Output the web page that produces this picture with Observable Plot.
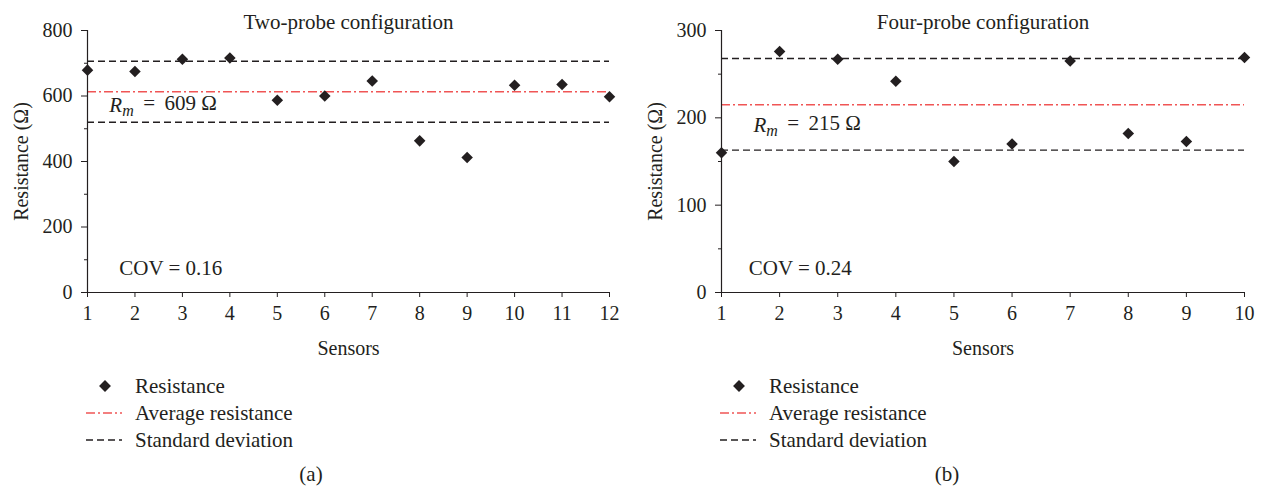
<!DOCTYPE html>
<html><head><meta charset="utf-8">
<script src="https://cdn.jsdelivr.net/npm/d3@7"></script>
<script src="https://cdn.jsdelivr.net/npm/@observablehq/plot@0.6"></script>
<style>
body{margin:0;background:#fff;font-family:"Times New Roman","Liberation Serif","DejaVu Serif",serif;color:#231f20;}
#wrap{display:flex;width:1264px;height:489px;overflow:hidden;}
.panel{position:relative;width:632px;height:489px;}
.legend{position:absolute;left:0;top:360px;width:632px;height:129px;}
.item{position:absolute;height:24px;font-size:21px;white-space:nowrap;}
.item svg{position:absolute;left:0;top:0;}
.item span{position:absolute;top:0px;line-height:24px;}
.cap{position:absolute;font-size:21px;transform:translateX(-50%);}
</style>
</head><body>
<div id="wrap"></div>
<script>
// ---- Data (a) Two-probe configuration
const titleA = "Two-probe configuration";
const sensorsA = [1,2,3,4,5,6,7,8,9,10,11,12];
const resistanceA = [679,675,712,716,587,600,646,463,412,633,635,598];
const meanA = 613;
const sdLinesA = [706,520];
const yTicksA = [0,200,400,600,800];
const yMinorA = [100,300,500,700];
const rmLabelA = "Rm = 609 Ω";
const covLabelA = "COV = 0.16";

// ---- Data (b) Four-probe configuration
const titleB = "Four-probe configuration";
const sensorsB = [1,2,3,4,5,6,7,8,9,10];
const resistanceB = [160,276,267,242,150,170,265,182,173,269];
const meanB = 215;
const sdLinesB = [268,163];
const yTicksB = [0,100,200,300];
const yMinorB = [50,150,250];
const rmLabelB = "Rm = 215 Ω";
const covLabelB = "COV = 0.24";

const legendLabels = ["Resistance","Average resistance","Standard deviation"];
const captions = ["(a)","(b)"];

const INK = "#231f20", RED = "#f05555";
const FONT = '"Times New Roman", "Liberation Serif", "DejaVu Serif", serif';

function makePlot(c) {
  const data = c.sensors.map((s,i)=>({sensor:s, r:c.resist[i]}));
  const x0 = c.sensors[0], x1 = c.sensors[c.sensors.length-1];
  const yMax = c.yTicks[c.yTicks.length-1];
  return Plot.plot({
    width:632, height:360,
    marginLeft:c.ml, marginRight:c.mr, marginTop:30, marginBottom:68,
    style:{fontFamily:FONT, fontSize:"20px", color:INK, background:"transparent", overflow:"visible"},
    x:{domain:[x0,x1]},
    y:{domain:[0,yMax]},
    marks:[
      Plot.ruleY(c.sd, {stroke:INK, strokeWidth:1.4, strokeDasharray:"7,4"}),
      Plot.ruleY([c.mean], {stroke:RED, strokeWidth:1.6, strokeDasharray:"9,3,2,3"}),
      Plot.axisY({ticks:c.minor, tickSize:3, tickFormat:()=>"", label:null, stroke:INK}),
      Plot.axisY({ticks:c.yTicks, tickSize:6, tickPadding:9, label:"Resistance (Ω)", labelAnchor:"center", labelOffset:74, labelArrow:"none", fontSize:20, fontFamily:FONT, stroke:INK}),
      Plot.axisX({ticks:c.sensors, tickSize:5, tickPadding:8, label:"Sensors", labelAnchor:"center", labelOffset:62, labelArrow:"none", fontSize:20, fontFamily:FONT, tickFormat:d=>String(d), stroke:INK}),
      Plot.ruleX([x0], {stroke:INK, strokeWidth:1.2}),
      Plot.ruleY([0], {stroke:INK, strokeWidth:1.2}),
      Plot.dot(data, {x:"sensor", y:"r", symbol:"diamond2", r:5.2, fill:INK, stroke:null}),
      Plot.text([c.title], {frameAnchor:"top", dy:-16, fontSize:21, fontFamily:FONT, fill:INK}),
      Plot.text([c.rm], {x:()=>c.rmPos[0], y:()=>c.rmPos[1], textAnchor:"start", fontSize:21, fontFamily:FONT, fill:INK}),
      Plot.text([c.cov], {x:()=>c.covPos[0], y:()=>c.covPos[1], textAnchor:"start", fontSize:21, fontFamily:FONT, fill:INK})
    ]
  });
}

function fixRm(svg) {
  d3.select(svg).selectAll("text").each(function(){
    const t = d3.select(this);
    const s = t.text();
    if (s.startsWith("Rm =")) {
      const rest = s.slice(2).replace("=", "=\u2009");
      t.text(null);
      t.append("tspan").attr("font-style","italic").text("R");
      t.append("tspan").attr("font-style","italic").attr("font-size","16px").attr("dy","0.3em").text("m");
      t.append("tspan").attr("dy","-0.3em").text("\u2009" + rest);
    }
  });
}

function addPanel(c, idx) {
  const panel = document.createElement("div");
  panel.className = "panel";
  const svg = makePlot(c);
  fixRm(svg);
  panel.appendChild(svg);
  const leg = document.createElement("div");
  leg.className = "legend";
  const rowsY = [26, 53, 80];
  legendLabels.forEach((lab, i) => {
    const it = document.createElement("div");
    it.className = "item";
    it.style.left = (c.ml - 1) + "px";
    it.style.top = (rowsY[i] - 12) + "px";
    const s = d3.create("svg").attr("width", 40).attr("height", 24);
    if (i === 0) {
      s.append("path").attr("d", d3.symbol(d3.symbolDiamond2, 90)()).attr("transform","translate(19,12)").attr("fill", INK);
    } else {
      s.append("line").attr("x1",0).attr("x2",36).attr("y1",12).attr("y2",12)
        .attr("stroke", i === 1 ? RED : INK).attr("stroke-width", i===1?1.6:1.4)
        .attr("stroke-dasharray", i === 1 ? "9,3,2,3" : "7,4");
    }
    it.appendChild(s.node());
    const sp = document.createElement("span");
    sp.style.left = "49px";
    sp.textContent = lab;
    it.appendChild(sp);
    leg.appendChild(it);
  });
  const cap = document.createElement("div");
  cap.className = "cap";
  cap.style.left = c.capX + "px";
  cap.style.top = "102px";
  cap.textContent = captions[idx];
  leg.appendChild(cap);
  panel.appendChild(leg);
  document.getElementById("wrap").appendChild(panel);
}

addPanel({title:titleA, sensors:sensorsA, resist:resistanceA, mean:meanA, sd:sdLinesA, yTicks:yTicksA, minor:yMinorA,
  rm:rmLabelA, cov:covLabelA, rmPos:[1.46,573], covPos:[1.67,75], ml:87, mr:23, capX:311}, 0);
addPanel({title:titleB, sensors:sensorsB, resist:resistanceB, mean:meanB, sd:sdLinesB, yTicks:yTicksB, minor:yMinorB,
  rm:rmLabelB, cov:covLabelB, rmPos:[1.55,192], covPos:[1.47,28], ml:89, mr:20, capX:315}, 1);
</script>
</body></html>
